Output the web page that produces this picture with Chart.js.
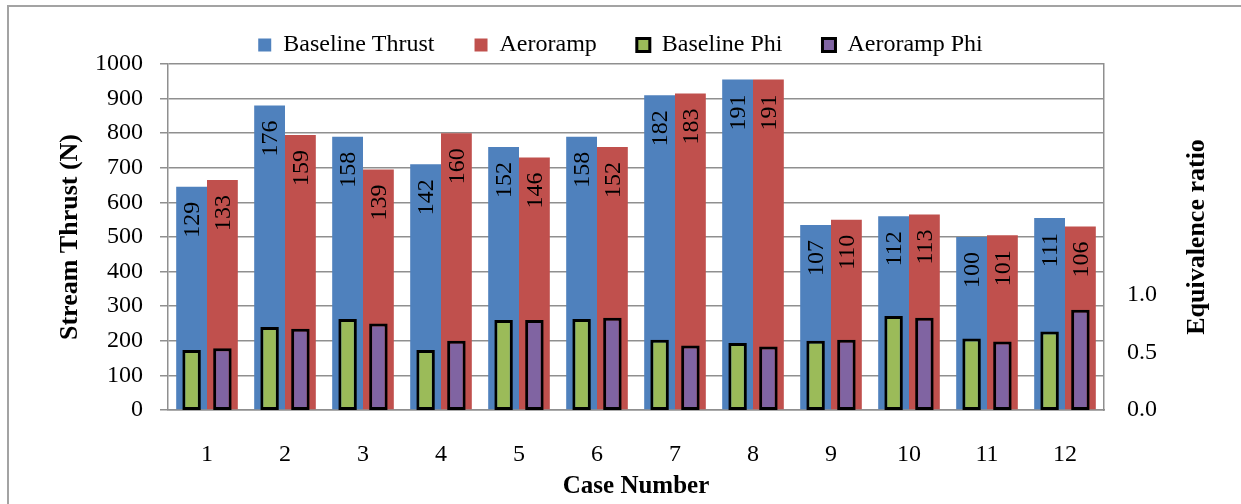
<!DOCTYPE html>
<html>
<head>
<meta charset="utf-8">
<script src="https://cdn.jsdelivr.net/npm/chart.js@4.4.0/dist/chart.umd.min.js"></script>
<style>
  html, body { margin: 0; padding: 0; background: #fff; overflow: hidden; }
  #wrap { position: relative; width: 1241px; height: 504px; overflow: hidden; }
  #frame { position: absolute; left: 7px; top: 5px; width: 1400px; height: 700px; border: 2px solid #a3a3a3; }
  #c { position: absolute; left: 0; top: 0; }
</style>
</head>
<body>
<div id="wrap">
  <div id="frame"></div>
  <canvas id="c" width="1241" height="504"></canvas>
</div>
<script>
// Test cases
const cases = ['1', '2', '3', '4', '5', '6', '7', '8', '9', '10', '11', '12'];

// Stream thrust (N)
const baselineThrust = [645, 880, 790, 710, 760, 790, 910, 955, 535, 560, 500, 555];
const aerorampThrust = [665, 795, 695, 800, 730, 760, 915, 955, 550, 565, 505, 530];

// Values printed inside the thrust bars
const baselineBarText = ['129', '176', '158', '142', '152', '158', '182', '191', '107', '112', '100', '111'];
const aerorampBarText = ['133', '159', '139', '160', '146', '152', '183', '191', '110', '113', '101', '106'];

// Equivalence ratio
const baselinePhi = [0.52, 0.72, 0.79, 0.52, 0.78, 0.79, 0.61, 0.58, 0.60, 0.815, 0.62, 0.68];
const aerorampPhi = [0.535, 0.705, 0.75, 0.60, 0.78, 0.80, 0.56, 0.55, 0.61, 0.80, 0.595, 0.87];

// Labels shown on the equivalence-ratio axis
const phiTickLabels = ['0.0', '0.5', '1.0'];

const SERIF = '"Liberation Serif", "Times New Roman", serif';
const GRID = '#8f8f8f';

// Rotated value text near the top of each thrust bar (reads bottom to top)
const barText = {
  id: 'barText',
  afterDatasetsDraw(chart) {
    const ctx = chart.ctx;
    [[0, baselineBarText], [1, aerorampBarText]].forEach(([di, texts]) => {
      chart.getDatasetMeta(di).data.forEach((bar, i) => {
        ctx.save();
        ctx.translate(bar.x + 1, bar.y + 15);
        ctx.rotate(-Math.PI / 2);
        ctx.font = '24px ' + SERIF;
        ctx.fillStyle = '#000';
        ctx.textAlign = 'right';
        ctx.textBaseline = 'middle';
        ctx.fillText(texts[i], 0, 0);
        ctx.restore();
      });
    });
  }
};

// Title of the right-hand axis, reading bottom to top
const rightTitle = {
  id: 'rightTitle',
  afterDraw(chart) {
    const ctx = chart.ctx;
    ctx.save();
    ctx.translate(1197, 237);
    ctx.rotate(-Math.PI / 2);
    ctx.font = 'bold 26px ' + SERIF;
    ctx.fillStyle = '#000';
    ctx.textAlign = 'center';
    ctx.textBaseline = 'middle';
    ctx.fillText('Equivalence ratio', 0, 0);
    ctx.restore();
  }
};

new Chart(document.getElementById('c'), {
  type: 'bar',
  data: {
    labels: cases,
    datasets: [
      { label: 'Baseline Thrust', data: baselineThrust, backgroundColor: '#4F81BD', borderWidth: 0,
        stack: 'base', yAxisID: 'y', order: 1, categoryPercentage: 0.79, barPercentage: 1.0 },
      { label: 'Aeroramp', data: aerorampThrust, backgroundColor: '#C0504D', borderWidth: 0,
        stack: 'ramp', yAxisID: 'y', order: 1, categoryPercentage: 0.79, barPercentage: 1.0 },
      { label: 'Baseline Phi', data: baselinePhi, backgroundColor: '#9BBB59', borderColor: '#000', borderWidth: 3,
        borderSkipped: false, stack: 'base', yAxisID: 'y1', order: 0, categoryPercentage: 0.79, barPercentage: 0.6 },
      { label: 'Aeroramp Phi', data: aerorampPhi, backgroundColor: '#8064A2', borderColor: '#000', borderWidth: 3,
        borderSkipped: false, stack: 'ramp', yAxisID: 'y1', order: 0, categoryPercentage: 0.79, barPercentage: 0.6 }
    ]
  },
  options: {
    responsive: false,
    animation: false,
    layout: { padding: { top: -7, left: 0, right: 0, bottom: 0 } },
    plugins: {
      tooltip: { enabled: false },
      legend: {
        position: 'top',
        maxHeight: 71,
        labels: {
          font: { family: SERIF, size: 24 },
          color: '#000',
          boxWidth: 13,
          boxHeight: 13,
          padding: 40,
          sort: (a, b) => a.datasetIndex - b.datasetIndex
        }
      }
    },
    scales: {
      x: {
        type: 'category',
        position: 'bottom',
        stacked: true,
        grid: { display: false },
        border: { display: true, color: GRID, width: 1.5 },
        ticks: { font: { family: SERIF, size: 24 }, color: '#000', padding: 22 },
        title: { display: true, text: 'Case Number', font: { family: SERIF, size: 25, weight: 'bold' }, color: '#000',
                 padding: { top: 0, bottom: 2 } },
        afterFit: (s) => { s.height = 94; }
      },
      y: {
        position: 'left',
        stacked: false,
        min: 0, max: 1000,
        ticks: { stepSize: 100, font: { family: SERIF, size: 24 }, color: '#000', padding: 17,
                 callback: (v) => String(v) },
        grid: { color: GRID, lineWidth: 1.5, tickLength: 8 },
        border: { display: true, color: GRID, width: 1.5 },
        title: { display: true, text: 'Stream Thrust (N)', font: { family: SERIF, size: 26, weight: 'bold' }, color: '#000',
                 padding: { top: 55, bottom: 0 } },
        afterFit: (s) => { s.width = 168; }
      },
      y1: {
        position: 'right',
        stacked: false,
        min: 0, max: 3,
        ticks: {
          stepSize: 0.5,
          font: { family: SERIF, size: 24 },
          color: '#000',
          padding: 23,
          callback: (v, i) => (i < phiTickLabels.length ? phiTickLabels[i] : '')
        },
        grid: { display: false, drawTicks: false },
        border: { display: true, color: GRID, width: 1.5 },
        afterFit: (s) => { s.width = 137; }
      }
    }
  },
  plugins: [barText, rightTitle]
});
</script>
</body>
</html>
